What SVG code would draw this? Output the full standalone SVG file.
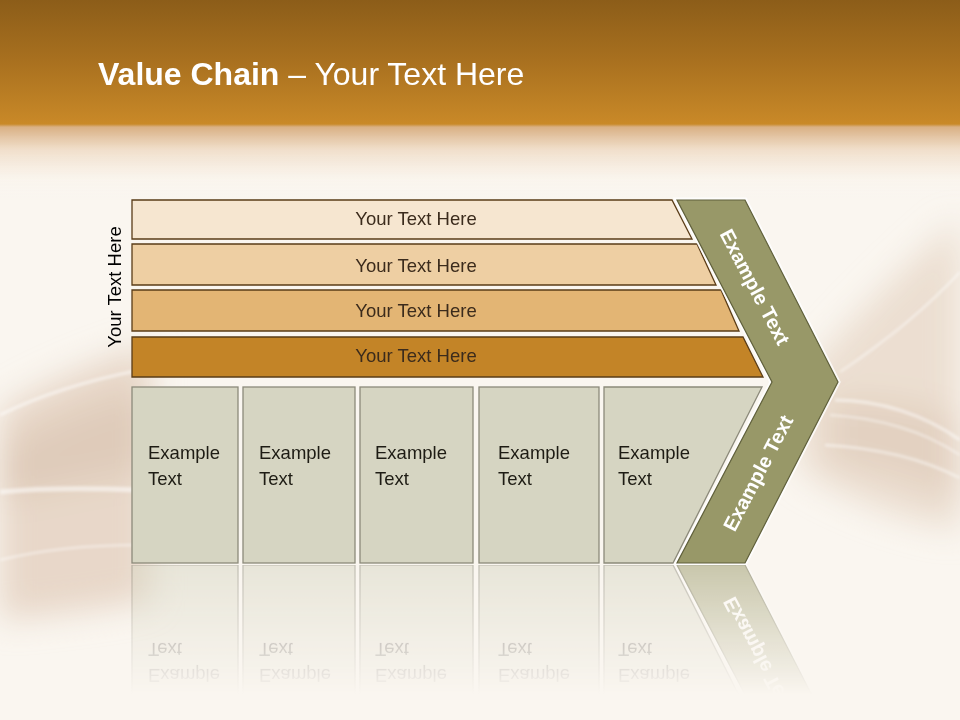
<svg xmlns="http://www.w3.org/2000/svg" xmlns:xlink="http://www.w3.org/1999/xlink" width="960" height="720" viewBox="0 0 960 720">
<defs>
<style>
.bartext{font-family:"Liberation Sans",Arial,sans-serif;font-size:18.5px;fill:#3b2b1c;text-anchor:middle}
.boxtext{font-family:"Liberation Sans",Arial,sans-serif;font-size:18.5px;fill:#1e1c14}
.chevtext{font-family:"Liberation Sans",Arial,sans-serif;font-size:20px;font-weight:bold;fill:#ffffff;text-anchor:middle}
.bar{stroke:#5a3c17;stroke-width:1.3}
.box{fill:#d6d5c2;stroke:#8c8a7a;stroke-width:1.3}
.streak{fill:none;stroke:#ffffff}
</style>
<linearGradient id="topg" x1="0" y1="0" x2="0" y2="200" gradientUnits="userSpaceOnUse">
<stop offset="0" stop-color="#8c5d19"/>
<stop offset="0.3" stop-color="#a8701f"/>
<stop offset="0.62" stop-color="#c98928"/>
<stop offset="0.635" stop-color="#d9b084" stop-opacity="1"/>
<stop offset="0.75" stop-color="#efdcc7" stop-opacity="0.9"/>
<stop offset="0.9" stop-color="#faf4ec" stop-opacity="0.6"/>
<stop offset="1" stop-color="#faf6f0" stop-opacity="0"/>
</linearGradient>
<filter id="blur" x="-30%" y="-30%" width="160%" height="160%"><feGaussianBlur stdDeviation="16"/></filter>
<filter id="blur2" x="-20%" y="-20%" width="140%" height="140%"><feGaussianBlur stdDeviation="1.5"/></filter>
<linearGradient id="fadeg" x1="0" y1="565" x2="0" y2="695" gradientUnits="userSpaceOnUse">
<stop offset="0" stop-color="#fff" stop-opacity="0.5"/>
<stop offset="1" stop-color="#fff" stop-opacity="0"/>
</linearGradient>
<mask id="fade" maskUnits="userSpaceOnUse" x="0" y="565" width="960" height="155">
<rect x="0" y="565" width="960" height="155" fill="url(#fadeg)"/>
</mask>
</defs>

<g id="background">
<rect x="0" y="0" width="960" height="720" fill="#faf6f0"/>
<g filter="url(#blur)">
<path d="M0,410 C50,380 100,360 150,345 L150,600 C100,610 50,615 0,620 Z" fill="#e6d4c4" opacity="0.9"/>
<path d="M0,450 C50,420 100,400 150,390 L150,470 C100,480 50,490 0,500 Z" fill="#dcc6b3" opacity="0.7"/>
<path d="M800,380 C850,320 910,260 960,220 L960,530 C900,520 850,500 800,470 Z" fill="#eadccd" opacity="0.9"/>
<path d="M830,400 C880,395 930,405 960,420 L960,500 C910,480 870,470 830,460 Z" fill="#ddc8b6" opacity="0.6"/>
</g>
<g filter="url(#blur2)" opacity="0.55">
<path class="streak" d="M0,415 C40,395 90,380 140,370" stroke-width="3"/>
<path class="streak" d="M0,492 C40,488 90,488 140,490" stroke-width="5"/>
<path class="streak" d="M0,560 C40,550 90,545 140,545" stroke-width="2"/>
<path class="streak" d="M840,372 C880,345 925,310 960,272" stroke-width="2"/>
<path class="streak" d="M835,400 C880,400 925,415 960,440" stroke-width="3"/>
<path class="streak" d="M830,415 C880,418 925,432 960,455" stroke-width="2"/>
<path class="streak" d="M825,445 C880,448 925,460 960,478" stroke-width="2.5"/>
</g>
<rect x="0" y="0" width="960" height="200" fill="url(#topg)"/>
</g>

<g id="title">
<text x="98" y="85" font-family="'Liberation Sans',Arial,sans-serif" font-size="32" fill="#ffffff"><tspan font-weight="bold">Value Chain</tspan> – Your Text Here</text>
</g>

<g id="side-label">
<text class="bartext" transform="translate(121,287) rotate(-90)" style="fill:#000">Your Text Here</text>
</g>

<g id="bar1"><polygon class="bar" fill="#f6e6d0" points="132,200 672,200 692,239 132,239"/><text class="bartext" x="416" y="225">Your Text Here</text></g>
<g id="bar2"><polygon class="bar" fill="#eecfa3" points="132,244 697,244 716,285 132,285"/><text class="bartext" x="416" y="272">Your Text Here</text></g>
<g id="bar3"><polygon class="bar" fill="#e3b574" points="132,290 721,290 739,331 132,331"/><text class="bartext" x="416" y="317">Your Text Here</text></g>
<g id="bar4"><polygon class="bar" fill="#c38427" points="132,337 743,337 763,377 132,377"/><text class="bartext" x="416" y="362">Your Text Here</text></g>

<g id="lower">
<g id="box1"><rect class="box" x="132" y="387" width="106" height="176"/><text class="boxtext" x="148" y="459">Example</text><text class="boxtext" x="148" y="485">Text</text></g>
<g id="box2"><rect class="box" x="243" y="387" width="112" height="176"/><text class="boxtext" x="259" y="459">Example</text><text class="boxtext" x="259" y="485">Text</text></g>
<g id="box3"><rect class="box" x="360" y="387" width="113" height="176"/><text class="boxtext" x="375" y="459">Example</text><text class="boxtext" x="375" y="485">Text</text></g>
<g id="box4"><rect class="box" x="479" y="387" width="120" height="176"/><text class="boxtext" x="498" y="459">Example</text><text class="boxtext" x="498" y="485">Text</text></g>
<g id="box5"><polygon class="box" points="604,387 762,387 673,563 604,563"/><text class="boxtext" x="618" y="459">Example</text><text class="boxtext" x="618" y="485">Text</text></g>
<g id="chevron">
<polygon points="677,200 745,200 838,382 745,563 677,563 772,382" fill="none" stroke="#ffffff" stroke-width="5" opacity="0.8"/>
<polygon points="677,200 745,200 838,382 745,563 677,563 772,382" fill="#989868" stroke="#5f5f3a" stroke-width="1.2"/>
<text class="chevtext" transform="translate(755,287) rotate(62.4)" y="7">Example Text</text>
<text class="chevtext" transform="translate(758,473) rotate(-62.4)" y="7">Example Text</text>
</g>
</g>

<g id="reflection" mask="url(#fade)">
<use xlink:href="#lower" href="#lower" transform="translate(0,1128) scale(1,-1)"/>
</g>

<g id="connectors"/>
</svg>
